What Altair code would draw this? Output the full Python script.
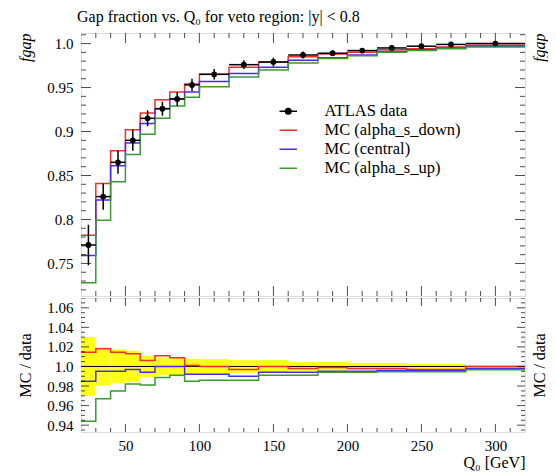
import altair as alt
import pandas as pd

# ---------------- data ----------------
edges = [20, 30, 40, 50, 60, 70, 80, 90, 100, 120, 140, 160, 180, 200, 220, 240, 260, 280, 320]
data_val = [0.771, 0.826, 0.865, 0.890, 0.915, 0.926, 0.937, 0.953, 0.965, 0.976, 0.979, 0.987,
            0.989, 0.992, 0.995, 0.997, 0.999, 1.000]
data_err = [0.023, 0.015, 0.013, 0.012, 0.009, 0.008, 0.008, 0.007, 0.006, 0.005, 0.005, 0.004,
            0.003, 0.003, 0.003, 0.002, 0.002, 0.0015]
mc_down = [0.782, 0.841, 0.878, 0.902, 0.921, 0.936, 0.945, 0.954, 0.965, 0.973, 0.979, 0.985,
           0.988, 0.990, 0.993, 0.994, 0.996, 0.998]
mc_central = [0.759, 0.822, 0.861, 0.887, 0.909, 0.926, 0.937, 0.945, 0.957, 0.966, 0.973, 0.981,
              0.984, 0.987, 0.991, 0.993, 0.995, 0.997]
mc_up = [0.728, 0.799, 0.843, 0.874, 0.897, 0.915, 0.929, 0.939, 0.951, 0.962, 0.970, 0.978,
         0.983, 0.986, 0.990, 0.992, 0.994, 0.996]
ratio_down = [1.0145, 1.018, 1.0145, 1.013, 1.006, 1.011, 1.009, 1.001, 1.000, 0.997, 1.000, 0.998,
              0.999, 0.998, 0.998, 0.997, 0.997, 1.000]
ratio_central = [0.985, 0.995, 0.995, 0.997, 0.994, 1.000, 1.000, 0.992, 0.992, 0.990, 0.994, 0.994,
                 0.995, 0.995, 0.996, 0.996, 0.996, 0.998]
ratio_up = [0.944, 0.967, 0.975, 0.982, 0.981, 0.9886, 0.991, 0.985, 0.986, 0.986, 0.991, 0.991,
            0.994, 0.994, 0.9945, 0.9945, 0.9945, 0.9966]
data_rel_err = [0.030, 0.0195, 0.0175, 0.016, 0.011, 0.009, 0.0087, 0.0078, 0.0075, 0.0065, 0.0065,
                0.0045, 0.0045, 0.0035, 0.0035, 0.0025, 0.0025, 0.0015]

names = ["ATLAS data", "MC (alpha_s_down)", "MC (central)", "MC (alpha_s_up)"]
colors = ["black", "#f02e2e", "#4b2aec", "#3a9a32"]

x_major = [50, 100, 150, 200, 250, 300]
x_minor = [v for v in range(30, 320, 10) if v not in x_major]
y1_major = [0.75, 0.80, 0.85, 0.90, 0.95, 1.00]
y1_minor = [round(0.72 + 0.01 * i, 3) for i in range(30) if round(0.72 + 0.01 * i, 3) not in y1_major]
y2_major = [0.94, 0.96, 0.98, 1.00, 1.02, 1.04, 1.06]
y2_minor = [round(0.935 + 0.005 * i, 3) for i in range(28) if round(0.935 + 0.005 * i, 3) not in y2_major]

# ---------------- tables ----------------
lo = edges[:-1]
hi = edges[1:]
mid = [(a + b) / 2 for a, b in zip(lo, hi)]
bins = pd.DataFrame({"lo": lo, "hi": hi, "mid": mid, "val": data_val,
                     "elo": [v - e for v, e in zip(data_val, data_err)],
                     "ehi": [v + e for v, e in zip(data_val, data_err)],
                     "blo": [1 - e for e in data_rel_err],
                     "bhi": [1 + e for e in data_rel_err]})

def steps(series_list, labels):
    rows = []
    for vals, name in zip(series_list, labels):
        for x, y in zip(edges, vals + [vals[-1]]):
            rows.append({"x": x, "y": y, "series": name})
    return pd.DataFrame(rows)

top_steps = steps([mc_down, mc_central, mc_up], names[1:])
bot_steps = steps([ratio_down, ratio_central, ratio_up], names[1:])

# ---------------- style ----------------
W, H1, H2 = 444, 263, 134
FONT = "Liberation Serif"
xscale = alt.Scale(domain=[20, 320], nice=False, zero=False)
y1scale = alt.Scale(domain=[0.713, 1.012], nice=False, zero=False)
y2scale = alt.Scale(domain=[0.933, 1.07], nice=False, zero=False)
cscale = alt.Scale(domain=names, range=colors)

dot_path = "M-1.75,0L1.75,0M-0.55,0A0.55,0.55,0,1,0,0.55,0A0.55,0.55,0,1,0,-0.55,0Z"
line_path = "M-1.75,0L1.75,0"

legend = alt.Legend(
    title=None, orient="none", legendX=199, legendY=70,
    symbolType={"expr": f"datum.value == 'ATLAS data' ? '{dot_path}' : '{line_path}'"},
    symbolSize=100, symbolStrokeWidth=1.5, symbolFillColor="black",
    labelFont=FONT, labelFontSize=16.5, labelColor="black", labelOffset=28,
    labelLimit=0, rowPadding=2, padding=0,
)

def lab_axis(orient, title, values, anchor, expr=None, tpad=10, italic=False):
    kw = dict(orient=orient, title=title, values=values, ticks=False, domain=False, grid=False,
              labelFont=FONT, labelFontSize=15, labelColor="black", labelPadding=8,
              titleFont=FONT, titleFontSize=16, titleFontWeight="normal", titleColor="black",
              titleAnchor=anchor, titlePadding=tpad, titleAngle=270)
    if expr:
        kw["labelExpr"] = expr
    if italic:
        kw["titleFontStyle"] = "italic"
    return alt.Axis(**kw)

def title_axis(orient, title, anchor, italic=False):
    kw = dict(orient=orient, title=title, labels=False, ticks=False, domain=False, grid=False,
              titleFont=FONT, titleFontSize=16, titleFontWeight="normal", titleColor="black",
              titleAnchor=anchor, titlePadding=22, titleAngle=270)
    if italic:
        kw["titleFontStyle"] = "italic"
    return alt.Axis(**kw)

x_axis = alt.Axis(orient="bottom", title="Q₀ [GeV]", values=x_major, ticks=False, domain=False,
                  grid=False, labelFont=FONT, labelFontSize=15, labelColor="black",
                  labelPadding=6, titleFont=FONT, titleFontSize=16, titleFontWeight="normal",
                  titleColor="black", titleAnchor="end", titlePadding=1)

def tick_layers(yscale, ymaj, ymin, h, lmaj, lmin, right_axis):
    xt = pd.DataFrame({"v": x_major + x_minor,
                       "len": [2 * lmaj] * len(x_major) + [2 * lmin] * len(x_minor)})
    yt = pd.DataFrame({"v": ymaj + ymin,
                       "len": [2 * lmaj] * len(ymaj) + [2 * lmin] * len(ymin)})
    size = alt.Size("len:Q", scale=None, legend=None)
    layers = []
    for yv in (0, h):
        layers.append(alt.Chart(xt).mark_tick(orient="vertical", color="black", thickness=1, clip=True)
                      .encode(x=alt.X("v:Q", scale=xscale, axis=None), y=alt.value(yv), size=size))
    layers.append(alt.Chart(yt).mark_tick(orient="horizontal", color="black", thickness=1, clip=True)
                  .encode(y=alt.Y("v:Q", scale=yscale, axis=None), x=alt.value(0), size=size))
    layers.append(alt.Chart(yt).mark_tick(orient="horizontal", color="black", thickness=1, clip=True)
                  .encode(y=alt.Y("v:Q", scale=yscale, axis=right_axis), x=alt.value(W), size=size))
    return layers

# ---------------- upper panel ----------------
top_lines = alt.Chart(top_steps).mark_line(interpolate="step-after", strokeWidth=1.5, clip=True).encode(
    x=alt.X("x:Q", scale=xscale, axis=None),
    y=alt.Y("y:Q", scale=y1scale,
            axis=lab_axis("left", "fgap", y1_major, "end",
                          "datum.value == 1 ? '1.0' : format(datum.value, '.2~f')", tpad=13,
                          italic=True)),
    color=alt.Color("series:N", scale=cscale, legend=legend),
    detail="series:N",
)
top_xerr = alt.Chart(bins).mark_rule(color="black", strokeWidth=1.5, clip=True).encode(
    x=alt.X("lo:Q", scale=xscale, axis=None), x2="hi:Q",
    y=alt.Y("val:Q", scale=y1scale, axis=None))
top_yerr = alt.Chart(bins).mark_rule(color="black", strokeWidth=1.5, clip=True).encode(
    x=alt.X("mid:Q", scale=xscale, axis=None),
    y=alt.Y("elo:Q", scale=y1scale, axis=None), y2="ehi:Q")
top_pts = alt.Chart(bins).mark_circle(color="black", size=34, opacity=1, clip=True).encode(
    x=alt.X("mid:Q", scale=xscale, axis=None),
    y=alt.Y("val:Q", scale=y1scale, axis=None))

upper = alt.layer(
    top_lines, top_xerr, top_yerr, top_pts,
    *tick_layers(y1scale, y1_major, y1_minor, H1, 10, 5, title_axis("right", "fgap", "end", True)),
).resolve_axis(x="independent", y="independent").properties(
    width=W, height=H1,
    title=alt.TitleParams("Gap fraction vs. Q₀ for veto region: |y| < 0.8", anchor="start",
                          frame="group", font=FONT, fontSize=16, fontWeight="normal",
                          color="black", offset=8, dx=-4),
)

# ---------------- lower panel ----------------
band = alt.Chart(bins).mark_rect(color="#ffff1a", opacity=1, clip=True).encode(
    x=alt.X("lo:Q", scale=xscale, axis=None),
    x2="hi:Q",
    y=alt.Y("blo:Q", scale=y2scale,
            axis=lab_axis("left", "MC / data", y2_major, "middle",
                          "datum.value == 1 ? '1.0' : format(datum.value, '.2f')", tpad=13)),
    y2="bhi:Q",
)
unity = alt.Chart(pd.DataFrame({"one": [1.0]})).mark_rule(color="black", strokeWidth=1).encode(
    y=alt.Y("one:Q", scale=y2scale, axis=None))
bot_lines = alt.Chart(bot_steps).mark_line(interpolate="step-after", strokeWidth=1.5, clip=True).encode(
    x=alt.X("x:Q", scale=xscale, axis=x_axis),
    y=alt.Y("y:Q", scale=y2scale, axis=None),
    color=alt.Color("series:N", scale=cscale, legend=None),
    detail="series:N",
)

lower = alt.layer(
    band, unity, bot_lines,
    *tick_layers(y2scale, y2_major, y2_minor, H2, 8, 4, title_axis("right", "MC / data", "middle")),
).resolve_axis(x="independent", y="independent").properties(width=W, height=H2)

chart = alt.vconcat(upper, lower, spacing=0).properties(
    padding={"left": 9, "top": 0, "right": 0, "bottom": 0}
).configure_view(stroke="black", strokeWidth=1).configure(background="white")

chart.save("out.html", embed_options={"renderer": "svg", "actions": False})
